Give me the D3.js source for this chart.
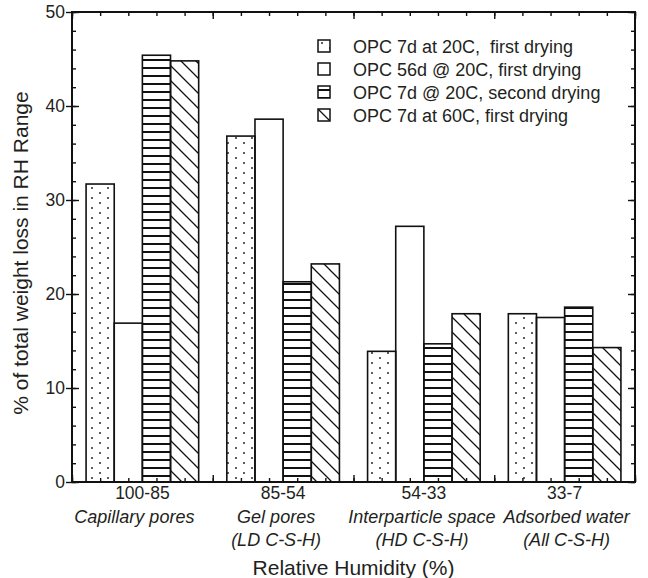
<!DOCTYPE html>
<html>
<head>
<meta charset="utf-8">
<script src="https://cdn.jsdelivr.net/npm/d3@7"></script>
<style>
  body { margin: 0; background: #fff; }
  text { font-family: "Liberation Sans", Arial, sans-serif; fill: #231f20; }
</style>
</head>
<body>
<script>
// data
const groups = ["100-85", "85-54", "54-33", "33-7"];
const groupNotes = [["Capillary pores"], ["Gel pores", "(LD C-S-H)"], ["Interparticle space", "(HD C-S-H)"], ["Adsorbed water", "(All C-S-H)"]];
const seriesNames = ["OPC 7d at 20C,  first drying", "OPC 56d @ 20C, first drying", "OPC 7d @ 20C, second drying", "OPC 7d at 60C, first drying"];
const opc7d20first = [31.7, 36.8, 13.9, 17.9];
const opc56d20first = [16.9, 38.6, 27.2, 17.5];
const opc7d20second = [45.4, 21.3, 14.7, 18.6];
const opc7d60first = [44.8, 23.2, 17.9, 14.3];
const yTicks = [0, 10, 20, 30, 40, 50];

const series = [opc7d20first, opc56d20first, opc7d20second, opc7d60first];
const fills = ["url(#dots)", "none", "url(#hlines)", "url(#diag)"];
// the italic notes are nudged by hand in the original
const noteShift = [-8, -7, -2, 2];

var width = 648, height = 578;
var margin = { top: 12, right: 13, bottom: 96, left: 72 };

var svg = d3.select("body").append("svg")
    .attr("width", width)
    .attr("height", height);

// hatch patterns
var defs = svg.append("defs");
var dots = defs.append("pattern").attr("id", "dots")
    .attr("patternUnits", "userSpaceOnUse").attr("width", 16).attr("height", 10);
dots.append("circle").attr("cx", 4).attr("cy", 3).attr("r", 0.95).attr("fill", "#1a1a1a");
dots.append("circle").attr("cx", 12).attr("cy", 8).attr("r", 0.95).attr("fill", "#1a1a1a");

var hl = defs.append("pattern").attr("id", "hlines")
    .attr("patternUnits", "userSpaceOnUse").attr("width", 8).attr("height", 8);
hl.append("rect").attr("x", 0).attr("y", 3).attr("width", 8).attr("height", 2).attr("fill", "#111");

var dg = defs.append("pattern").attr("id", "diag")
    .attr("patternUnits", "userSpaceOnUse").attr("width", 15).attr("height", 15);
dg.append("path").attr("d", "M-2,-2L17,17M13,-2L17,2M-2,13L2,17")
    .attr("stroke", "#111").attr("stroke-width", 1.3).attr("fill", "none");

var x0 = d3.scaleBand().domain(groups)
    .range([margin.left, width - margin.right]).padding(0);
var x1 = d3.scaleBand().domain(d3.range(series.length))
    .range([0, x0.bandwidth()]).paddingInner(0).paddingOuter(0.5);
var xLin = d3.scaleLinear().domain([0, groups.length])
    .range([margin.left, width - margin.right]);
var y = d3.scaleLinear().domain([0, 50])
    .range([height - margin.bottom, margin.top]);

// bars
series.forEach(function(vals, s) {
    svg.append("g")
        .selectAll("rect")
        .data(vals)
        .enter()
        .append("rect")
        .attr("x", function(d, i) { return x0(groups[i]) + x1(s); })
        .attr("y", function(d) { return y(d); })
        .attr("width", x1.bandwidth())
        .attr("height", function(d) { return y(0) - y(d); })
        .attr("fill", fills[s])
        .attr("stroke", "#111")
        .attr("stroke-width", 1.6);
});

// ticks all round the frame
const minorY = d3.range(0, 51, 2);
const minorX = d3.range(0, groups.length + 0.01, 0.2);
const majorX = d3.range(0, groups.length + 1, 1);
function clean(g) {
    g.select(".domain").remove();
    g.selectAll("line").attr("stroke", "#111").attr("stroke-width", 1.4);
}
var ax = [
    [d3.axisLeft(y).tickValues(minorY).tickSize(-4).tickFormat(""), margin.left, 0],
    [d3.axisLeft(y).tickValues(yTicks).tickSize(-7).tickFormat(""), margin.left, 0],
    [d3.axisRight(y).tickValues(minorY).tickSize(-4).tickFormat(""), width - margin.right, 0],
    [d3.axisRight(y).tickValues(yTicks).tickSize(-7).tickFormat(""), width - margin.right, 0],
    [d3.axisTop(xLin).tickValues(minorX).tickSize(-4).tickFormat(""), 0, margin.top],
    [d3.axisTop(xLin).tickValues(majorX).tickSize(-7).tickFormat(""), 0, margin.top],
    [d3.axisBottom(xLin).tickValues(minorX).tickSize(-4).tickFormat(""), 0, height - margin.bottom],
    [d3.axisBottom(xLin).tickValues(majorX).tickSize(-7).tickFormat(""), 0, height - margin.bottom]
];
ax.forEach(function(a) {
    svg.append("g").attr("transform", "translate(" + a[1] + "," + a[2] + ")").call(a[0]).call(clean);
});

// y labels with outward major ticks
svg.append("g")
    .attr("transform", "translate(" + margin.left + ",0)")
    .call(d3.axisLeft(y).tickValues(yTicks).tickSize(6).tickPadding(1))
    .call(clean)
    .selectAll("text")
    .attr("font-size", "17.5px")
    .attr("font-family", "Liberation Sans, Arial, sans-serif")
    .attr("fill", "#231f20");

// frame
svg.append("rect")
    .attr("x", margin.left).attr("y", margin.top)
    .attr("width", width - margin.left - margin.right)
    .attr("height", height - margin.top - margin.bottom)
    .attr("fill", "none").attr("stroke", "#111").attr("stroke-width", 2);

// x labels
var xl = svg.append("g").selectAll("g").data(groups).enter().append("g")
    .attr("transform", function(d) { return "translate(" + (x0(d) + x0.bandwidth() / 2) + ",0)"; });
xl.append("text")
    .attr("y", 499).attr("text-anchor", "middle").attr("font-size", "17.5px")
    .text(function(d) { return d; });
xl.each(function(d, i) {
    d3.select(this).selectAll("text.note").data(groupNotes[i]).enter().append("text")
        .attr("class", "note")
        .attr("x", noteShift[i])
        .attr("y", function(t, j) { return 522.5 + j * 23.5; })
        .attr("text-anchor", "middle").attr("font-size", "18px").attr("font-style", "italic")
        .text(function(t) { return t; });
});

svg.append("text")
    .attr("x", xLin(2)).attr("y", 575)
    .attr("text-anchor", "middle").attr("font-size", "21px")
    .text("Relative Humidity (%)");

svg.append("text")
    .attr("transform", "rotate(-90)")
    .attr("x", -253).attr("y", 28)
    .attr("text-anchor", "middle").attr("font-size", "21px")
    .text("% of total weight loss in RH Range");

// legend
var lg = svg.append("g").selectAll("g").data(seriesNames).enter().append("g")
    .attr("transform", function(d, i) { return "translate(318," + (40 + i * 23) + ")"; });
lg.append("rect")
    .attr("width", 12).attr("height", 12)
    .attr("fill", function(d, i) { return fills[i] === "none" ? "#fff" : fills[i]; })
    .attr("stroke", "#111").attr("stroke-width", 1.5);
lg.append("text")
    .attr("x", 35).attr("y", 12.5)
    .attr("font-size", "18px")
    .style("white-space", "pre")
    .text(function(d) { return d; });
</script>
</body>
</html>
